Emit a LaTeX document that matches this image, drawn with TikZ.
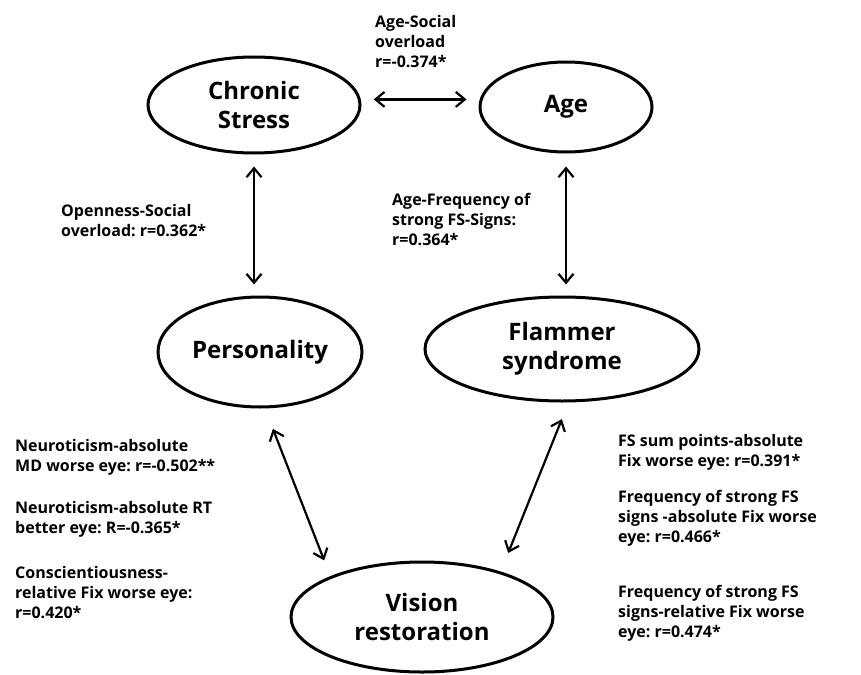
\documentclass[tikz,border=0pt]{standalone}
\usepackage{fontspec}
\setmainfont{Open Sans}
\frenchspacing
\usetikzlibrary{shapes.geometric,arrows.meta}

\tikzset{
    factor/.style={draw, ellipse, line width=3pt, inner sep=0pt, align=center,
        font=\bfseries\fontsize{24}{29}\selectfont},
    corr/.style={anchor=north west, inner sep=0pt, align=left,
        font=\bfseries\fontsize{16}{20}\selectfont},
    link/.style={<->, >={Straight Barb[length=9pt,width=15pt]}, line width=2.2pt},
}

\begin{document}
\begin{tikzpicture}[x=1pt, y=-1pt]
    \useasboundingbox (0,0) rectangle (861,674);
    % factors
    \node[factor, minimum width=212pt, minimum height=96pt] (cs) at (254,105) {Chronic\\Stress};
    \node[factor, minimum width=172pt, minimum height=90pt] (age) at (566,107) {Age};
    \node[factor, minimum width=204pt, minimum height=110pt] (pers) at (260,352) {Personality};
    \node[factor, minimum width=274pt, minimum height=104pt] (fs) at (562,349) {Flammer\\syndrome};
    \node[factor, minimum width=262pt, minimum height=110pt] (vr) at (422,617) {Vision\\restoration};
    % correlations
    \node[corr] (agecs) at (375,15) {Age-Social\\overload\\r=-0.374*};
    \node[corr] (open) at (61,204) {Openness-Social\\overload: r=0.362*};
    \node[corr] (agefs) at (392,193) {Age-Frequency of\\strong FS-Signs:\\r=0.364*};
    \node[corr] (neuromd) at (15,439) {Neuroticism-absolute\\MD worse eye: r=-0.502**};
    \node[corr] (neurort) at (15,501) {Neuroticism-absolute RT\\better eye: R=-0.365*};
    \node[corr] (consc) at (15,566) {Conscientiousness-\\relative Fix worse eye:\\r=0.420*};
    \node[corr] (fssum) at (618,434) {FS sum points-absolute\\Fix worse eye: r=0.391*};
    \node[corr] (fsabs) at (618,490) {Frequency of strong FS\\signs -absolute Fix worse\\eye: r=0.466*};
    \node[corr] (fsrel) at (618,585) {Frequency of strong FS\\signs-relative Fix worse\\eye: r=0.474*};
    % links
    \draw[link, shorten <=13pt, shorten >=12pt] (cs.3) -- (cs.3 -| age.west);
    \draw[link, shorten <=12pt, shorten >=11pt] (cs.south) -- (cs.south |- pers.north);
    \draw[link, shorten <=13pt, shorten >=11pt] (age.south) -- (age.south |- fs.north);
    \draw[link, shorten <=22pt, shorten >=17pt] (pers.-85) -- (vr.156);
    \draw[link, shorten <=18pt, shorten >=20pt] (fs.-83) -- (vr.30);
\end{tikzpicture}
\end{document}
